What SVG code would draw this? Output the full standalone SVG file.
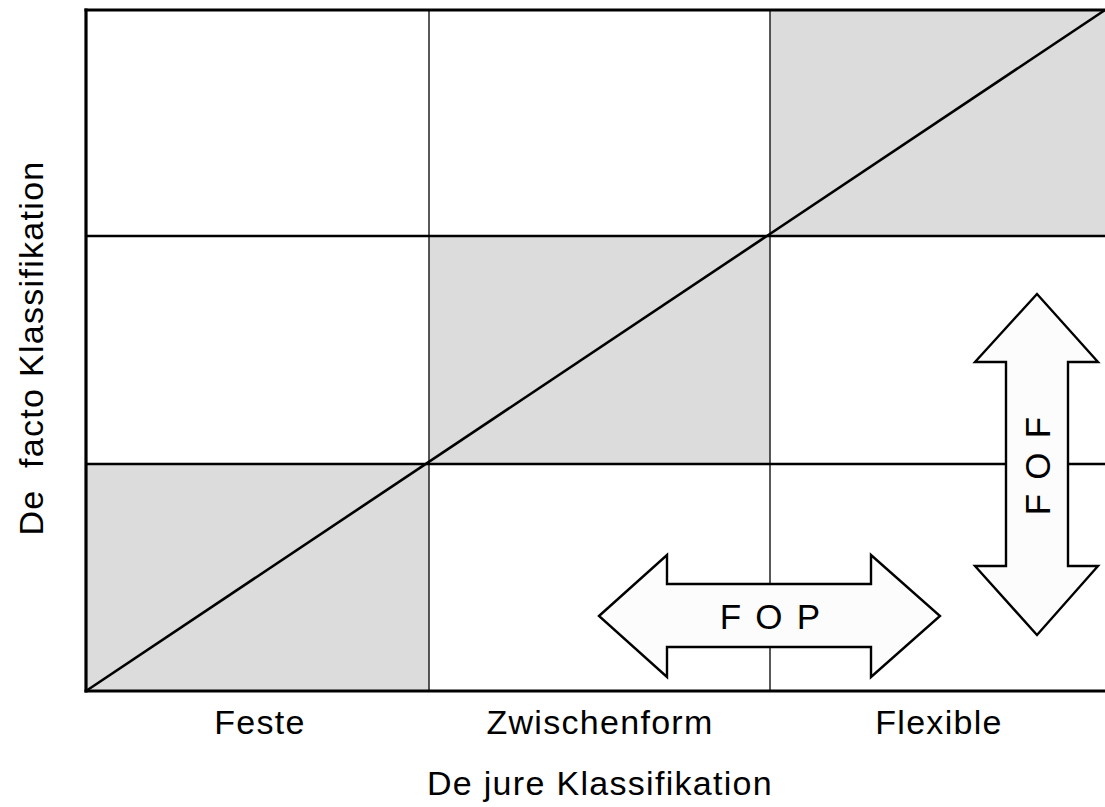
<svg xmlns="http://www.w3.org/2000/svg" width="1105" height="807" viewBox="0 0 1105 807">
  <style>
    .cell { fill: #dcdcdc; stroke: none; }
    .frame { stroke: #000; stroke-width: 3.2; fill: none; }
    .hline { stroke: #000; stroke-width: 2.6; fill: none; }
    .vline { stroke: #222; stroke-width: 1.5; fill: none; }
    .diag { stroke: #000; stroke-width: 2.6; fill: none; }
    .arrow { fill: #fcfcfc; stroke: #000; stroke-width: 2.4; stroke-linejoin: miter; }
    .lbl { font-family: "Liberation Sans", Arial, sans-serif; font-size: 34px; fill: #000; letter-spacing: 1.3px; }
    .alb { font-family: "Liberation Sans", Arial, sans-serif; font-size: 35px; fill: #000; }
  </style>

  <rect width="1105" height="807" fill="#fff"/>

  <!-- shaded cells along the diagonal -->
  <g id="cells">
    <rect class="cell" x="86" y="464" width="343" height="227"/>
    <rect class="cell" x="429" y="236" width="341" height="228"/>
    <rect class="cell" x="770" y="10" width="335" height="226"/>
  </g>

  <!-- grid lines -->
  <g id="grid">
    <line class="vline" x1="429" y1="10" x2="429" y2="691"/>
    <line class="vline" x1="770" y1="10" x2="770" y2="691"/>
    <line class="hline" x1="86" y1="236" x2="1105" y2="236"/>
    <line class="hline" x1="86" y1="464" x2="1105" y2="464"/>
    <line class="frame" x1="84.5" y1="10" x2="1105" y2="10"/>
    <line class="frame" x1="86" y1="8.5" x2="86" y2="692.5"/>
    <line class="frame" x1="84.5" y1="691" x2="1105" y2="691"/>
  </g>

  <!-- diagonal -->
  <g id="connectors">
    <line class="diag" x1="86" y1="691" x2="1105" y2="10"/>
  </g>

  <!-- horizontal double arrow -->
  <g id="fop">
    <polygon class="arrow" points="599,616 667,555 667,584 871,584 871,555 940,616 871,677 871,647 667,647 667,677"/>
    <text class="alb" x="771" y="629" text-anchor="middle" letter-spacing="2.2">F O P</text>
  </g>

  <!-- vertical double arrow -->
  <g id="fof">
    <polygon class="arrow" points="1037,294 1098,362 1068,362 1068,566 1098,566 1037,635 975,566 1006,566 1006,362 975,362"/>
    <text class="alb" transform="translate(1050,465) rotate(-90)" x="0" y="0" text-anchor="middle" letter-spacing="2.2">F O F</text>
  </g>

  <!-- axis category labels -->
  <g id="labels">
    <text class="lbl" x="260" y="734" text-anchor="middle">Feste</text>
    <text class="lbl" x="600" y="734" text-anchor="middle">Zwischenform</text>
    <text class="lbl" x="939" y="734" text-anchor="middle">Flexible</text>
    <text class="lbl" x="600" y="795" text-anchor="middle">De jure Klassifikation</text>
    <text class="lbl" transform="translate(43,348) rotate(-90)" x="0" y="0" text-anchor="middle" font-size="35" style="white-space:pre">De  facto Klassifikation</text>
  </g>
</svg>
